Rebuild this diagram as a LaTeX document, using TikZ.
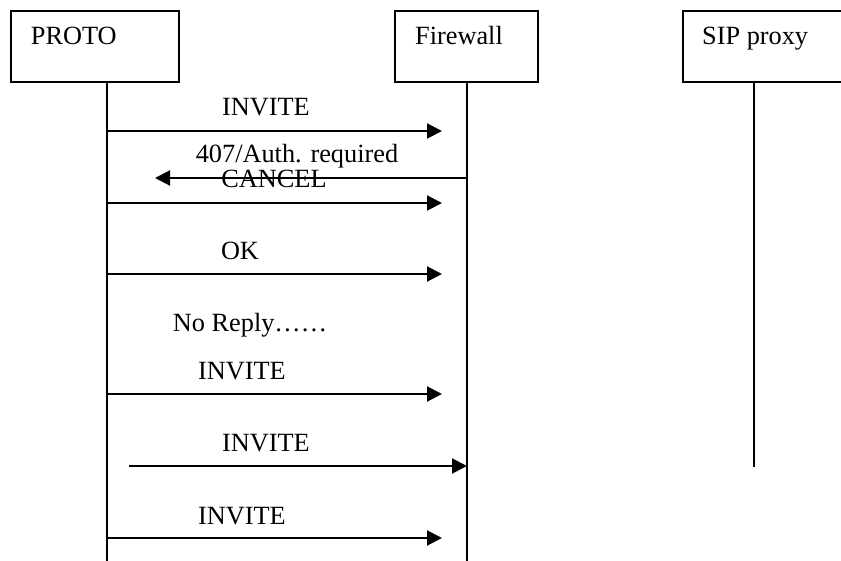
\documentclass[tikz,border=0pt]{standalone}
\usepackage{fontspec}
\setmainfont{Liberation Serif}
\usetikzlibrary{arrows.meta}
\begin{document}
\begin{tikzpicture}[x=1pt,y=-1pt,
  every node/.style={font=\fontsize{26.3}{30}\selectfont, inner sep=0pt},
  entity/.style={draw, line width=2pt, rectangle, anchor=north west,
                 minimum height=71pt},
  entname/.style={anchor=base west},
  lifeline/.style={line width=2pt},
  msg/.style={line width=2pt, -{Triangle[length=15pt,width=15pt]}},
  lbl/.style={anchor=base}]
\useasboundingbox (0,0) rectangle (841,561);
\clip (0,0) rectangle (841,561);

% participants
\node[entity, minimum width=168pt] (proto) at (10,10) {};
\node[entity, minimum width=143pt] (fw) at (394,10) {};
\node[entity, minimum width=170pt] (sip) at (682,10) {};
\node[entname] (protoname) at (30.7,45) {PROTO};
\node[entname] (fwname) at (415,45) {Firewall};
\node[entname] (sipname) at (702,45) {SIP proxy};

% lifelines
\coordinate (protoTop) at (107,81);
\coordinate (protoEnd) at (107,561);
\coordinate (fwTop) at (467,81);
\coordinate (fwEnd) at (467,561);
\coordinate (sipTop) at (754,81);
\coordinate (sipEnd) at (754,467);
\draw[lifeline] (protoTop) -- (protoEnd);
\draw[lifeline] (fwTop) -- (fwEnd);
\draw[lifeline] (sipTop) -- (sipEnd);

% messages
\coordinate (m1a) at (107,131);  \coordinate (m1b) at (442,131);
\coordinate (m2a) at (467,178);  \coordinate (m2b) at (155,178);
\coordinate (m3a) at (107,203);  \coordinate (m3b) at (442,203);
\coordinate (m4a) at (107,274);  \coordinate (m4b) at (442,274);
\coordinate (m5a) at (107,394);  \coordinate (m5b) at (442,394);
\coordinate (m6a) at (129,466);  \coordinate (m6b) at (467,466);
\coordinate (m7a) at (107,538);  \coordinate (m7b) at (442,538);

\draw[msg] (m1a) -- (m1b);
\draw[msg] (m2a) -- (m2b);
\draw[msg] (m3a) -- (m3b);
\draw[msg] (m4a) -- (m4b);
\draw[msg] (m5a) -- (m5b);
\draw[msg] (m6a) -- (m6b);
\draw[msg] (m7a) -- (m7b);

% message labels
\node[lbl] (l1) at (266,116) {INVITE};
\node[lbl] (l2) at (297,162.7) {407/Auth. required};
\node[lbl] (l3) at (274,187.7) {CANCEL};
\node[lbl] (l4) at (240,259.3) {OK};
\node[lbl] (l5) at (250,331.7) {No Reply……};
\node[lbl] (l6) at (242,380) {INVITE};
\node[lbl] (l7) at (266,451.7) {INVITE};
\node[lbl] (l8) at (242,524) {INVITE};
\end{tikzpicture}
\end{document}
